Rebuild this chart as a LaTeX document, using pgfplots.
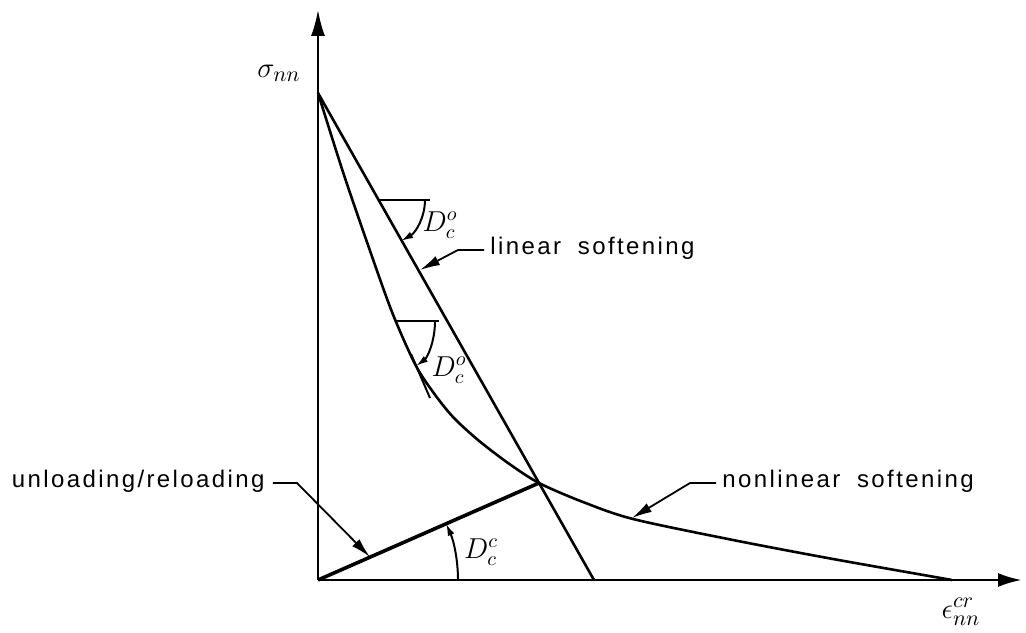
\documentclass[border=0pt]{standalone}
\usepackage{pgfplots}
\pgfplotsset{compat=1.18}
\usepackage{fontspec}
\setmainfont{Liberation Sans}
\newfontfamily\lblfont[LetterSpace=10]{Liberation Sans}
\usetikzlibrary{arrows.meta}

% stress--crack strain relation: linear and nonlinear softening
\begin{document}
\begin{tikzpicture}
\begin{axis}[
  x=0.5pt, y=0.5pt,
  xmin=0, xmax=704, ymin=0, ymax=570,
  axis lines=left,
  xtick=\empty, ytick=\empty,
  clip=false,
  x axis line style={line width=1.4pt, -{Latex[length=12pt,width=7pt]}},
  y axis line style={line width=1pt, -{Latex[length=13pt,width=7pt]}},
]
% overall extent of the drawing
\path (axis cs:-318,-48) rectangle (axis cs:708,580);

% linear softening branch
\addplot[line width=1.3pt] coordinates {(0,487) (276,0)};
% nonlinear softening branch
\addplot[line width=1.3pt, smooth] coordinates {
  (0,487) (25,408) (50,335) (74,268) (97,216) (115,188) (135,163)
  (160,140) (190,117) (221,97) (265,78) (315,61) (415,40) (515,21) (634,0)};
% unloading / reloading secant
\addplot[line width=1.8pt] coordinates {(0,0) (221,97)};

% initial stiffness angle on the linear branch
\draw[line width=1.1pt] (axis cs:60,380) -- (axis cs:112,380);
\draw[line width=1pt, -{Latex[length=6pt,width=3.5pt]}]
  (axis cs:107,380) arc[start angle=0, end angle=-60.5, radius=23.5pt];
\node[font=\fontsize{14}{16}\selectfont] at (axis cs:122,355) {$D_c^o$};

% initial stiffness angle on the nonlinear branch
\draw[line width=1.1pt] (axis cs:78,259) -- (axis cs:121,259);
\draw[line width=1pt, -{Latex[length=6pt,width=3.5pt]}]
  (axis cs:117,259) .. controls (axis cs:117,238) and (axis cs:109,222) .. (axis cs:98,214);
\draw[line width=1pt] (axis cs:93,226) -- (axis cs:112,182);
\node[font=\fontsize{14}{16}\selectfont] at (axis cs:131,210) {$D_c^o$};

% secant stiffness angle
\draw[line width=1pt, -{Latex[length=6pt,width=3.5pt]}]
  (axis cs:140,0) arc[start angle=0, end angle=23.7, radius=70pt];
\node[font=\fontsize{14}{16}\selectfont] at (axis cs:163,28) {$D_c^c$};

% leaders and annotations
\draw[line width=0.9pt, -{Latex[length=10pt,width=5pt]}]
  (axis cs:166,330) -- (axis cs:140,330) -- (axis cs:102,310);
\node[anchor=west, inner sep=0pt, font=\fontsize{12}{14}\selectfont]
  at (axis cs:172,332) {\lblfont linear\hspace{0.7em}softening};

\draw[line width=0.9pt, -{Latex[length=10pt,width=5pt]}]
  (axis cs:-45,97) -- (axis cs:-21,97) -- (axis cs:52,23);
\node[anchor=east, inner sep=0pt, font=\fontsize{12}{14}\selectfont]
  at (axis cs:-53,99) {\lblfont unloading/reloading};

\draw[line width=0.9pt, -{Latex[length=10pt,width=5pt]}]
  (axis cs:398,97) -- (axis cs:372,97) -- (axis cs:314,62);
\node[anchor=west, inner sep=0pt, font=\fontsize{12}{14}\selectfont]
  at (axis cs:404,99) {\lblfont nonlinear\hspace{0.7em}softening};

% axis labels
\node[anchor=east, inner sep=0pt, font=\fontsize{15}{17}\selectfont]
  at (axis cs:-17,507) {$\sigma_{nn}$};
\node[font=\fontsize{15}{17}\selectfont] at (axis cs:643,-32) {$\epsilon^{cr}_{nn}$};
\end{axis}
\end{tikzpicture}
\end{document}
